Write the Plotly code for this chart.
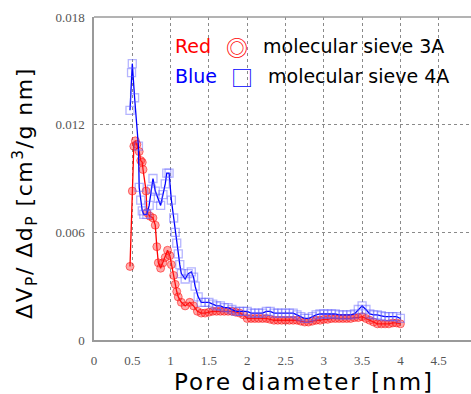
import plotly.graph_objects as go

# ---- data ----
red_x = [0.47, 0.50, 0.52, 0.54, 0.56, 0.59, 0.61, 0.63, 0.64, 0.68, 0.69, 0.73, 0.77, 0.80,
         0.82, 0.84, 0.87, 0.90, 0.93, 0.96, 0.99, 1.01, 1.04, 1.06, 1.08, 1.10, 1.14, 1.19,
         1.25, 1.30, 1.35, 1.40, 1.45, 1.50, 1.55, 1.60, 1.65, 1.70, 1.75, 1.80, 1.85, 1.90,
         1.95, 2.00, 2.05, 2.10, 2.15, 2.20, 2.25, 2.30, 2.35, 2.40, 2.45, 2.50, 2.55, 2.60,
         2.65, 2.70, 2.75, 2.80, 2.85, 2.90, 2.95, 3.00, 3.05, 3.10, 3.15, 3.20, 3.25, 3.30,
         3.35, 3.40, 3.45, 3.50, 3.55, 3.60, 3.65, 3.70, 3.75, 3.80, 3.85, 3.90, 3.95, 4.00]
red_y = [0.0041, 0.0083, 0.0108, 0.0111, 0.0109, 0.0105, 0.0100, 0.0099, 0.0095, 0.0083,
         0.0071, 0.0069, 0.0068, 0.0064, 0.0052, 0.0043, 0.0040, 0.0043, 0.0046, 0.0050,
         0.0047, 0.0042, 0.0036, 0.0031, 0.0027, 0.0024, 0.0021, 0.0019, 0.0021, 0.0019,
         0.0016, 0.0015, 0.0015, 0.00155, 0.0016, 0.0016, 0.0016, 0.0016, 0.0016, 0.0016,
         0.00155, 0.0015, 0.0014, 0.0012, 0.0012, 0.0012, 0.0012, 0.0012, 0.0012, 0.00115,
         0.0011, 0.0011, 0.0011, 0.0011, 0.0011, 0.0011, 0.0011, 0.00105, 0.0010, 0.0010,
         0.00105, 0.0011, 0.0011, 0.00115, 0.00115, 0.0012, 0.0012, 0.0012, 0.0012, 0.0012,
         0.0012, 0.00125, 0.00125, 0.0013, 0.0012, 0.0011, 0.0010, 0.0009, 0.0009, 0.0009,
         0.0009, 0.00095, 0.00095, 0.0009]

blue_x = [0.47, 0.49, 0.50, 0.53, 0.58, 0.59, 0.61, 0.63, 0.65, 0.69, 0.72, 0.75, 0.77, 0.80,
          0.84, 0.87, 0.90, 0.93, 0.95, 0.98, 1.01, 1.04, 1.06, 1.08, 1.10, 1.12, 1.14, 1.19,
          1.23, 1.27, 1.30, 1.32, 1.36, 1.40, 1.45, 1.50, 1.55, 1.60, 1.65, 1.70, 1.75, 1.80,
          1.85, 1.90, 1.95, 2.00, 2.05, 2.10, 2.15, 2.20, 2.25, 2.30, 2.35, 2.40, 2.45, 2.50,
          2.55, 2.60, 2.65, 2.70, 2.75, 2.80, 2.85, 2.90, 2.95, 3.00, 3.05, 3.10, 3.15, 3.20,
          3.25, 3.30, 3.35, 3.40, 3.45, 3.50, 3.55, 3.60, 3.65, 3.70, 3.75, 3.80, 3.85, 3.90,
          3.95, 4.00]
blue_y = [0.0128, 0.0149, 0.0154, 0.0135, 0.0108, 0.0085, 0.0078, 0.0072, 0.0070, 0.0070,
          0.0075, 0.0084, 0.0090, 0.0083, 0.0079, 0.0075, 0.0081, 0.0087, 0.0093, 0.0093,
          0.0078, 0.0068, 0.0060, 0.0054, 0.0048, 0.0042, 0.0037, 0.0034, 0.0037, 0.0038,
          0.0035, 0.0030, 0.0024, 0.0021, 0.0021, 0.0021, 0.0020, 0.0019, 0.0019, 0.0018,
          0.0018, 0.0017, 0.0016, 0.0016, 0.0016, 0.0016, 0.0015, 0.0015, 0.0015, 0.0015,
          0.0016, 0.0016, 0.0015, 0.0015, 0.0015, 0.0015, 0.0015, 0.0015, 0.0014, 0.0013,
          0.0012, 0.0012, 0.0013, 0.0014, 0.00145, 0.00145, 0.00145, 0.00145, 0.00145, 0.0014,
          0.0014, 0.0014, 0.0014, 0.00145, 0.0017, 0.0019, 0.0017, 0.00145, 0.0014, 0.0014,
          0.00135, 0.0013, 0.0013, 0.0013, 0.0013, 0.0012]

x_ticks = [0, 0.5, 1, 1.5, 2, 2.5, 3, 3.5, 4, 4.5]
x_tick_labels = ["0", "0.5", "1", "1.5", "2", "2.5", "3", "3.5", "4", "4.5"]
y_ticks = [0, 0.006, 0.012, 0.018]
y_tick_labels = ["0", "0.006", "0.012", "0.018"]

W, H = 471, 394
L, R, T, B = 94, 0, 17, 54


def px(xp):
    return (xp - L) / (W - L - R)


def py(yp):
    return (H - B - yp) / (H - T - B)


fig = go.Figure()
fig.add_trace(go.Scatter(
    x=red_x, y=red_y, mode="lines+markers",
    line=dict(color="rgb(255,0,0)", width=1.3),
    marker=dict(symbol="circle", size=8, color="rgba(255,40,40,0.4)",
                line=dict(color="rgba(255,0,0,0.5)", width=1)),
    showlegend=False))
fig.add_trace(go.Scatter(
    x=blue_x, y=blue_y, mode="lines+markers",
    line=dict(color="rgb(0,0,255)", width=1.3),
    marker=dict(symbol="square-open", size=8, color="rgba(90,90,255,0.45)",
                line=dict(width=1.3)),
    showlegend=False))

grid = dict(showgrid=True, gridcolor="#8a8a8a", griddash="3px,3px", gridwidth=1)
fig.update_xaxes(range=[0, (W - L - R) / 76.6], tickvals=x_ticks, ticktext=x_tick_labels,
                 showline=True, linecolor="#9a9a9a", linewidth=1.5, zeroline=False,
                 ticks="", ticklabelstandoff=8,
                 tickfont=dict(family="Liberation Serif", size=13, color="#555"), **grid)
fig.update_yaxes(range=[0, 0.018], tickvals=y_ticks, ticktext=y_tick_labels,
                 showline=True, linecolor="#9a9a9a", linewidth=1.5, zeroline=False,
                 ticks="", ticklabelstandoff=5,
                 tickfont=dict(family="Liberation Serif", size=13, color="#555"), **grid)

fig.add_shape(type="line", xref="paper", yref="paper", x0=0, x1=1, y0=1, y1=1,
              line=dict(color="#9a9a9a", width=1.5))

tf = "DejaVu Sans"
ann = [
    dict(text="Red", x=px(173), y=py(46), xanchor="left", font=dict(color="red", size=19, family=tf)),
    dict(text="◎", x=px(237), y=py(46), xanchor="center", font=dict(color="red", size=22, family="Noto Sans CJK JP")),
    dict(text="molecular sieve 3A", x=px(261), y=py(46), xanchor="left", font=dict(color="black", size=19, family=tf)),
    dict(text="Blue", x=px(173), y=py(76), xanchor="left", font=dict(color="blue", size=19, family=tf)),
    dict(text="□", x=px(242), y=py(76), xanchor="center", font=dict(color="blue", size=22, family="Noto Sans CJK JP")),
    dict(text="molecular sieve 4A", x=px(266), y=py(76), xanchor="left", font=dict(color="black", size=19, family=tf)),
    dict(text="<span style='letter-spacing:2px'>Pore diameter [nm]</span>", x=px(304), y=py(382),
         xanchor="center", font=dict(color="black", size=23, family=tf)),
    dict(text="<span style='letter-spacing:1.5px'>ΔV<sub>P</sub>/ Δd<sub>P</sub> [cm<sup>3</sup>/g nm]</span>",
         x=px(25), y=py(193), xanchor="center", textangle=-90,
         font=dict(color="black", size=22, family=tf)),
]
for a in ann:
    a.update(xref="paper", yref="paper", yanchor="middle", showarrow=False)
    fig.add_annotation(**a)

fig.update_layout(width=W, height=H, margin=dict(l=L, r=R, t=T, b=B),
                  paper_bgcolor="white", plot_bgcolor="white")
fig.write_html("out.html", config={"displayModeBar": False},
               post_script="document.body.style.margin='0';document.body.style.overflow='hidden';")
